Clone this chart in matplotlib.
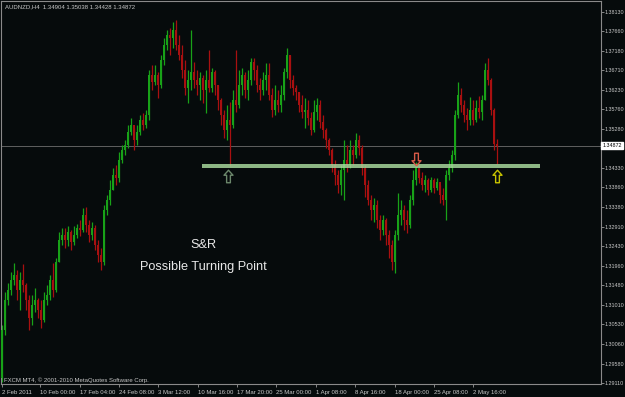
import numpy as np
import matplotlib.pyplot as plt
from matplotlib.path import Path

# AUDNZD H4 candles (open of each bar = close of the previous one)
first_open = 1.2923
closes = [1.3039, 1.3112, 1.3136, 1.3161, 1.3173, 1.3136, 1.3161, 1.3148, 1.3112, 1.3068,
          1.3100, 1.3112, 1.3088, 1.3063, 1.3112, 1.3124, 1.3161, 1.3136, 1.3204, 1.3258,
          1.3270, 1.3258, 1.3277, 1.3253, 1.3270, 1.3287, 1.3282, 1.3319, 1.3294, 1.3270,
          1.3287, 1.3246, 1.3221, 1.3204, 1.3331, 1.3355, 1.3379, 1.3416, 1.3409, 1.3453,
          1.3477, 1.3489, 1.3520, 1.3538, 1.3501, 1.3520, 1.3550, 1.3538, 1.3562, 1.3659,
          1.3642, 1.3659, 1.3635, 1.3696, 1.3732, 1.3756, 1.3749, 1.3768, 1.3732, 1.3708,
          1.3671, 1.3627, 1.3647, 1.3666, 1.3647, 1.3635, 1.3652, 1.3623, 1.3647, 1.3627,
          1.3666, 1.3635, 1.3598, 1.3562, 1.3525, 1.3550, 1.3538, 1.3598, 1.3586, 1.3635,
          1.3659, 1.3623, 1.3647, 1.3691, 1.3671, 1.3635, 1.3623, 1.3647, 1.3659, 1.3610,
          1.3574, 1.3598, 1.3586, 1.3610, 1.3666, 1.3708, 1.3647, 1.3627, 1.3618, 1.3586,
          1.3569, 1.3574, 1.3554, 1.3525, 1.3569, 1.3586, 1.3545, 1.3525, 1.3501, 1.3477,
          1.3440, 1.3416, 1.3391, 1.3428, 1.3453, 1.3440, 1.3477, 1.3465, 1.3501, 1.3482,
          1.3433, 1.3391, 1.3355, 1.3331, 1.3343, 1.3306, 1.3282, 1.3306, 1.3270, 1.3246,
          1.3204, 1.3270, 1.3319, 1.3331, 1.3306, 1.3294, 1.3355, 1.3404, 1.3433, 1.3409,
          1.3391, 1.3404, 1.3379, 1.3404, 1.3384, 1.3399, 1.3367, 1.3355, 1.3416, 1.3433,
          1.3465, 1.3562, 1.3610, 1.3586, 1.3562, 1.3550, 1.3574, 1.3550, 1.3579, 1.3569,
          1.3598, 1.3671, 1.3647, 1.3574, 1.34904, 1.34872]
highs = [1.3051, 1.3131, 1.3153, 1.3180, 1.3202, 1.3185, 1.3180, 1.3199, 1.3153, 1.3124,
         1.3124, 1.3141, 1.3117, 1.3112, 1.3131, 1.3148, 1.3173, 1.3202, 1.3214, 1.3277,
         1.3287, 1.3287, 1.3292, 1.3282, 1.3292, 1.3297, 1.3306, 1.3336, 1.3338, 1.3306,
         1.3302, 1.3294, 1.3258, 1.3238, 1.3343, 1.3367, 1.3404, 1.3433, 1.3440, 1.3472,
         1.3489, 1.3501, 1.3538, 1.3554, 1.3530, 1.3538, 1.3562, 1.3567, 1.3574, 1.3671,
         1.3684, 1.3684, 1.3666, 1.3708, 1.3749, 1.3768, 1.3773, 1.3788, 1.3793, 1.3756,
         1.3732, 1.3696, 1.3671, 1.3768, 1.3691, 1.3671, 1.3666, 1.3659, 1.3671, 1.3720,
         1.3676, 1.3671, 1.3635, 1.3603, 1.3574, 1.3586, 1.3593, 1.3623, 1.3720, 1.3671,
         1.3676, 1.3666, 1.3671, 1.3700, 1.3700, 1.3684, 1.3652, 1.3666, 1.3688, 1.3688,
         1.3627, 1.3635, 1.3623, 1.3635, 1.3676, 1.3725, 1.3708, 1.3659, 1.3635, 1.3618,
         1.3610, 1.3603, 1.3598, 1.3569, 1.3598, 1.3603, 1.3598, 1.3562, 1.3530, 1.3506,
         1.3482, 1.3453, 1.3428, 1.3440, 1.3501, 1.3489, 1.3501, 1.3489, 1.3518, 1.3513,
         1.3489, 1.3440, 1.3404, 1.3367, 1.3360, 1.3355, 1.3319, 1.3319, 1.3311, 1.3282,
         1.3258, 1.3282, 1.3372, 1.3355, 1.3343, 1.3331, 1.3367, 1.3428, 1.3448, 1.3440,
         1.3423, 1.3416, 1.3409, 1.3411, 1.3409, 1.3409, 1.3391, 1.3384, 1.3428, 1.3453,
         1.3477, 1.3574, 1.3642, 1.3627, 1.3598, 1.3579, 1.3605, 1.3598, 1.3598, 1.3608,
         1.3610, 1.3688, 1.3700, 1.3652, 1.3579, 1.35038]
lows = [1.2913, 1.3027, 1.3100, 1.3124, 1.3148, 1.3112, 1.3088, 1.3131, 1.3088, 1.3039,
        1.3051, 1.3083, 1.3068, 1.3044, 1.3059, 1.3100, 1.3112, 1.3119, 1.3131, 1.3204,
        1.3246, 1.3238, 1.3243, 1.3234, 1.3246, 1.3263, 1.3268, 1.3277, 1.3277, 1.3253,
        1.3258, 1.3234, 1.3204, 1.3185, 1.3197, 1.3319, 1.3343, 1.3379, 1.3391, 1.3399,
        1.3445, 1.3465, 1.3482, 1.3513, 1.3477, 1.3489, 1.3513, 1.3525, 1.3530, 1.3550,
        1.3623, 1.3635, 1.3603, 1.3627, 1.3684, 1.3720, 1.3708, 1.3725, 1.3720, 1.3696,
        1.3652, 1.3610, 1.3591, 1.3623, 1.3627, 1.3610, 1.3598, 1.3591, 1.3567, 1.3618,
        1.3618, 1.3610, 1.3574, 1.3538, 1.3506, 1.3501, 1.3438, 1.3530, 1.3569, 1.3579,
        1.3610, 1.3603, 1.3598, 1.3635, 1.3647, 1.3618, 1.3598, 1.3610, 1.3623, 1.3598,
        1.3557, 1.3562, 1.3569, 1.3569, 1.3598, 1.3652, 1.3627, 1.3610, 1.3598, 1.3569,
        1.3554, 1.3530, 1.3538, 1.3513, 1.3520, 1.3550, 1.3530, 1.3506, 1.3482, 1.3465,
        1.3423, 1.3391, 1.3372, 1.3367, 1.3355, 1.3423, 1.3433, 1.3440, 1.3457, 1.3465,
        1.3416, 1.3362, 1.3343, 1.3306, 1.3302, 1.3287, 1.3258, 1.3270, 1.3246, 1.3214,
        1.3185, 1.3178, 1.3258, 1.3294, 1.3282, 1.3275, 1.3287, 1.3343, 1.3391, 1.3396,
        1.3379, 1.3374, 1.3367, 1.3374, 1.3372, 1.3379, 1.3348, 1.3343, 1.3306, 1.3404,
        1.3423, 1.3453, 1.3554, 1.3569, 1.3545, 1.3525, 1.3538, 1.3538, 1.3545, 1.3554,
        1.3550, 1.3598, 1.3635, 1.3562, 1.3477, 1.34428]

price_ticks = [1.38130, 1.37660, 1.37180, 1.36710, 1.36230, 1.35760, 1.35280, 1.34810,
               1.34330, 1.33860, 1.33380, 1.32910, 1.32430, 1.31960, 1.31480, 1.31010,
               1.30530, 1.30060, 1.29580, 1.29110]
time_labels = ["2 Feb 2011", "10 Feb 00:00", "17 Feb 04:00", "24 Feb 08:00", "3 Mar 12:00",
               "10 Mar 16:00", "17 Mar 20:00", "25 Mar 00:00", "1 Apr 08:00", "8 Apr 16:00",
               "18 Apr 00:00", "25 Apr 08:00", "2 May 16:00"]
time_bars = [0, 12.7, 26, 39, 52, 65.3, 78.3, 91.3, 104.7, 117.7, 131, 144, 157]

last_open = 1.34904
sr_level = 1.3437
sr_start, sr_end = 66.7, 179.3
arrow_bars = [75.5, 138, 165]
arrow_prices = [1.3414, 1.3454, 1.3414]
arrow_dirs = ["up", "down", "up"]
arrow_colors = ["#6b876b", "#d85a48", "#c8c400"]

bg = "#060b0c"
bull = "#18a218"
bear = "#a81010"
txt = "#c8c8c8"

opens = [first_open] + closes[:-1]
opens[-1] = last_open
n = len(closes)
idx = np.arange(n)
o = np.array(opens)
c = np.array(closes)
h = np.array(highs)
l = np.array(lows)
up = c >= o
cols = np.where(up, bull, bear)

fig = plt.figure(figsize=(6.25, 3.97), dpi=100, facecolor=bg)
ax = fig.add_axes([1 / 625, 13 / 397, 600 / 625, 383 / 397], facecolor=bg)

# current price line
last = closes[-1]
ax.axhline(last, color="#6e6e6e", lw=0.6, zorder=1)

# candles
ax.vlines(idx, l, h, colors=cols, lw=0.9, zorder=2)
body = np.maximum(np.abs(c - o), 0.00015)
ax.bar(idx, body, bottom=np.minimum(o, c), width=0.72, color=cols, lw=0, zorder=3)

# support / resistance band
ax.fill_between([sr_start, sr_end], sr_level - 0.00048, sr_level + 0.00048,
                color="#a6d69b", alpha=0.85, lw=0, zorder=4)

# arrows
up_path = Path([(0, 1), (0.72, 0.2), (0.3, 0.2), (0.3, -1), (-0.3, -1),
                (-0.3, 0.2), (-0.72, 0.2), (0, 1)], closed=True)
down_path = Path([(x, -y) for x, y in up_path.vertices], closed=True)
for xb, yp, d, col in zip(arrow_bars, arrow_prices, arrow_dirs, arrow_colors):
    ax.plot(xb, yp, marker=up_path if d == "up" else down_path, ms=9,
            mfc="none", mec=col, mew=1.0, zorder=5)

# annotations
ax.text(67, 1.3246, "S&R", color="#e8e8e8", fontsize=9.2, family="Liberation Sans",
        ha="center", va="center", zorder=6)
ax.text(67, 1.3193, "Possible Turning Point", color="#e8e8e8", fontsize=9.2,
        family="Liberation Sans", ha="center", va="center", zorder=6)

ax.set_xlim(-1 / 3, 199.67)
ax.set_ylim(1.29083, 1.38390)

for s in ax.spines.values():
    s.set_color("#8a8a8a")
    s.set_linewidth(0.8)

ax.yaxis.tick_right()
ax.set_yticks(price_ticks)
ax.set_yticklabels([f"{p:.5f}" for p in price_ticks])
ax.tick_params(axis="y", colors="#9a9a9a", length=2, width=0.6, pad=0.8,
               labelsize=3.9, labelcolor=txt)
ax.set_xticks(time_bars)
ax.set_xticklabels(time_labels, ha="left")
ax.tick_params(axis="x", colors="#9a9a9a", length=2.5, width=0.6, pad=1.5,
               labelsize=4.3, labelcolor=txt)
for t in ax.get_xticklabels() + ax.get_yticklabels():
    t.set_family("Liberation Sans")

# current price box on the price scale
ax.text(1.002, last, f"{last:.5f}", transform=ax.get_yaxis_transform(),
        fontsize=3.9, family="Liberation Sans", color="black", va="center", ha="left",
        bbox=dict(boxstyle="square,pad=0.2", fc="white", ec="white"), clip_on=False, zorder=10)

fig.text(5 / 625, 1 - 7 / 397, "AUDNZD,H4  1.34904 1.35038 1.34428 1.34872",
         color=txt, fontsize=4.3, family="Liberation Sans", va="center")
fig.text(4 / 625, 1 - 380 / 397, "FXCM MT4, \u00a9 2001-2010 MetaQuotes Software Corp.",
         color=txt, fontsize=4.3, family="Liberation Sans", va="center")

fig.savefig("out.png", dpi=100, facecolor=bg)
